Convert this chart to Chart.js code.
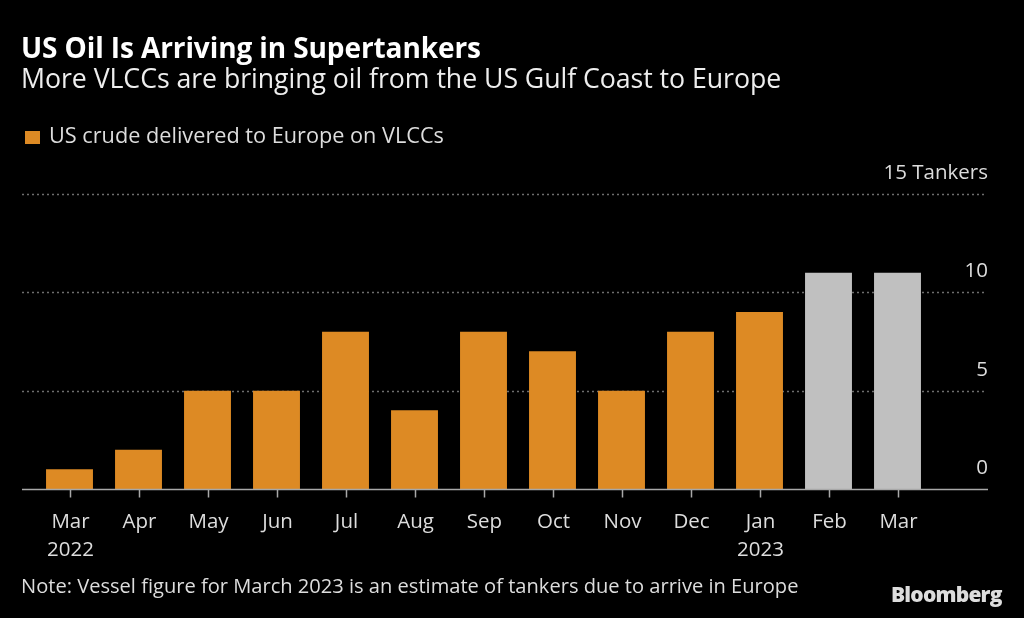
<!DOCTYPE html>
<html>
<head>
<meta charset="utf-8">
<script src="https://cdn.jsdelivr.net/npm/chart.js@4/dist/chart.umd.min.js"></script>
<style>
  html, body { margin: 0; padding: 0; background: #000; }
  #wrap { position: relative; width: 1024px; height: 618px; background: #000; overflow: hidden; font-family: "Open Sans", sans-serif; }
  canvas { position: absolute; left: 0; top: 0; }
  .txt { position: absolute; white-space: nowrap; line-height: 1; }
  #title { left: 21px; top: 32.5px; font-size: 28px; font-weight: 700; color: #fff; letter-spacing: -0.1px; }
  #subtitle { left: 21px; top: 65.3px; font-size: 26.7px; color: #eee; letter-spacing: -0.05px; }
  #legend { left: 25px; top: 124px; font-size: 21.7px; color: #ddd; }
  #legend i { display: inline-block; width: 15px; height: 13px; background: #dd8a24; margin-right: 9px; vertical-align: -1px; }
  #note { left: 21px; top: 576px; font-size: 20.1px; color: #ddd; }
  #brand { left: 891px; top: 584px; font-size: 21px; font-weight: 800; color: #ddd; letter-spacing: -0.8px; }
</style>
</head>
<body>
<div id="wrap">
  <canvas id="chart" width="1024" height="618"></canvas>
  <div class="txt" id="title">US Oil Is Arriving in Supertankers</div>
  <div class="txt" id="subtitle">More VLCCs are bringing oil from the US Gulf Coast to Europe</div>
  <div class="txt" id="legend"><i></i>US crude delivered to Europe on VLCCs</div>
  <div class="txt" id="note">Note: Vessel figure for March 2023 is an estimate of tankers due to arrive in Europe</div>
  <div class="txt" id="brand">Bloomberg</div>
</div>
<script>
// months shown on the x axis, with the year under the first and the January
const months = ["Mar", "Apr", "May", "Jun", "Jul", "Aug", "Sep", "Oct", "Nov", "Dec", "Jan", "Feb", "Mar"];
const years = ["2022", "", "", "", "", "", "", "", "", "", "2023", "", ""];
// VLCC tankers delivering US crude to Europe
const tankers = [1, 2, 5, 5, 8, 4, 8, 7, 5, 8, 9, 11, 11];
// the last two months are estimates, drawn in grey
const estimated = [false, false, false, false, false, false, false, false, false, false, false, true, true];
const yTicks = [0, 5, 10, 15];
const yUnit = "Tankers";

const ORANGE = "#dd8a24";
const GREY = "#c0c0c0";
const TEXT = "#dddddd";

// grid, baseline and axis labels drawn from the chart's own scales
const axisPlugin = {
  id: "bbgAxes",
  beforeDatasetsDraw(chart) {
    const ctx = chart.ctx, y = chart.scales.y;
    ctx.save();
    ctx.strokeStyle = "#6e6e6e";
    ctx.lineWidth = 1.5;
    ctx.setLineDash([2, 3]);
    yTicks.forEach(v => {
      if (v === 0) return;
      const py = Math.round(y.getPixelForValue(v)) + 0.5;
      ctx.beginPath();
      ctx.moveTo(22, py);
      ctx.lineTo(987, py);
      ctx.stroke();
    });
    ctx.restore();
  },
  afterDatasetsDraw(chart) {
    const ctx = chart.ctx, x = chart.scales.x, y = chart.scales.y;
    ctx.save();
    const base = Math.round(y.getPixelForValue(0)) + 0.5;
    ctx.strokeStyle = "#a8a8a8";
    ctx.lineWidth = 1.5;
    ctx.beginPath();
    ctx.moveTo(22, base);
    ctx.lineTo(988, base);
    ctx.stroke();
    ctx.fillStyle = TEXT;
    ctx.font = "20.5px 'Open Sans', sans-serif";
    ctx.textAlign = "center";
    ctx.textBaseline = "alphabetic";
    months.forEach((m, i) => {
      const px = Math.round(x.getPixelForValue(i)) + 0.5;
      ctx.beginPath();
      ctx.moveTo(px, base);
      ctx.lineTo(px, base + 8);
      ctx.stroke();
      ctx.fillText(m, px, 528);
      if (years[i]) ctx.fillText(years[i], px, 556);
    });
    ctx.textAlign = "right";
    yTicks.forEach(v => {
      const py = y.getPixelForValue(v) - 15;
      const label = v === 15 ? v + " " + yUnit : String(v);
      ctx.fillText(label, 988, py);
    });
    ctx.restore();
  }
};

new Chart(document.getElementById("chart"), {
  type: "bar",
  data: {
    labels: months,
    datasets: [{
      label: "US crude delivered to Europe on VLCCs",
      data: tankers,
      backgroundColor: estimated.map(e => e ? GREY : ORANGE),
      borderWidth: 0,
      categoryPercentage: 1,
      barPercentage: 0.68
    }]
  },
  options: {
    responsive: false,
    animation: false,
    layout: { padding: { left: 35, right: 92, top: 194, bottom: 129 } },
    plugins: { legend: { display: false }, tooltip: { enabled: false } },
    scales: {
      x: { display: false, offset: true },
      y: { display: false, min: 0, max: 15 }
    }
  },
  plugins: [axisPlugin]
});
</script>
</body>
</html>
